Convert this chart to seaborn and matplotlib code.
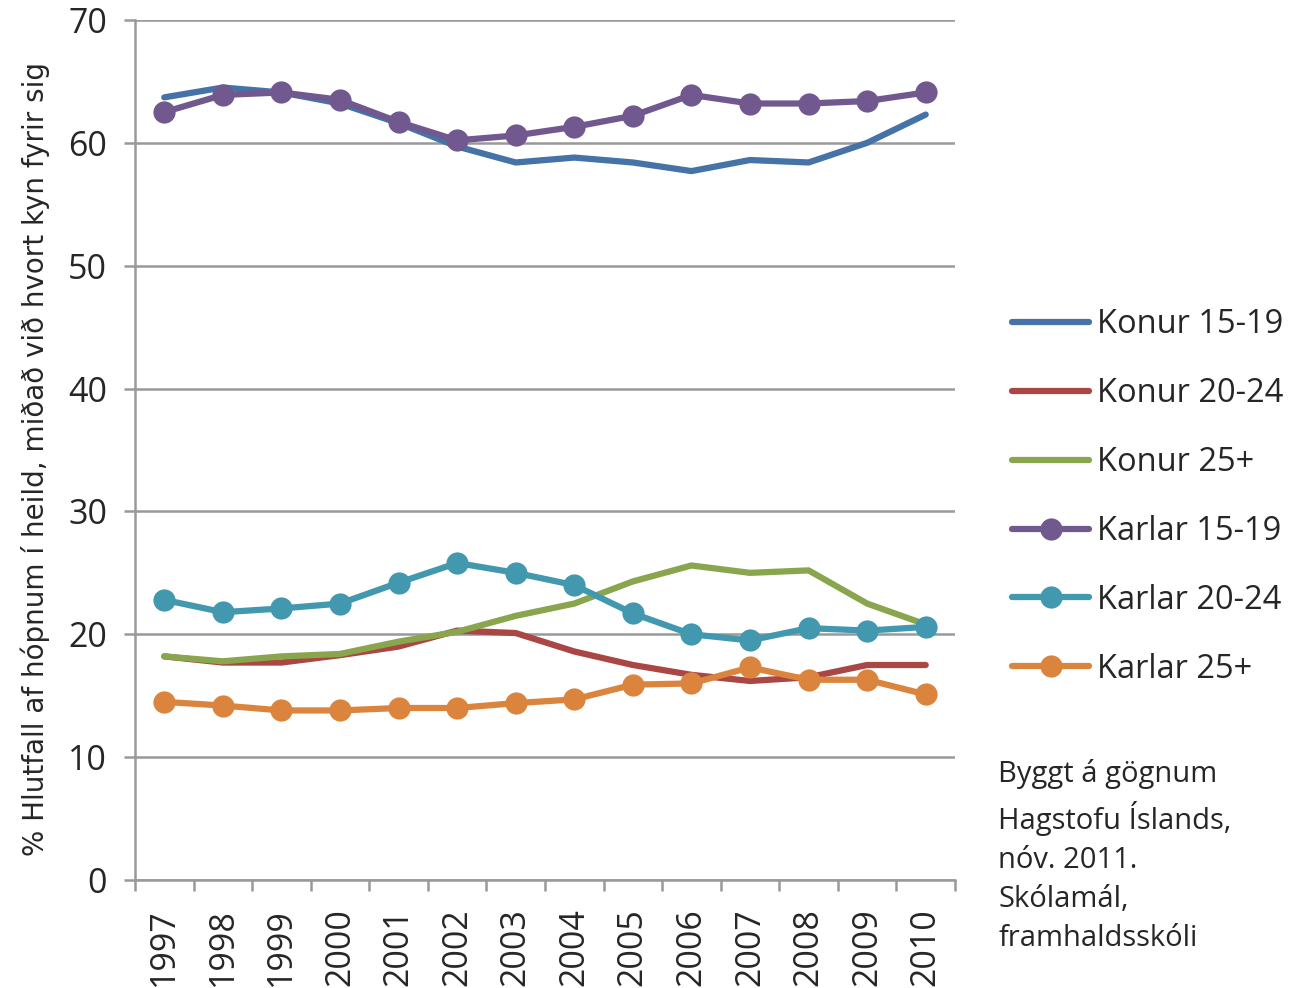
import pandas as pd
import numpy as np
import matplotlib
matplotlib.use('Agg')
import matplotlib.pyplot as plt
import seaborn as sns

years = ['1997', '1998', '1999', '2000', '2001', '2002', '2003',
         '2004', '2005', '2006', '2007', '2008', '2009', '2010']

konur_15_19 = [63.7, 64.5, 64.1, 63.2, 61.6, 59.7, 58.4, 58.8, 58.4, 57.7, 58.6, 58.4, 60.0, 62.3]
konur_20_24 = [18.2, 17.7, 17.7, 18.3, 19.0, 20.3, 20.1, 18.6, 17.5, 16.7, 16.2, 16.5, 17.5, 17.5]
konur_25 = [18.2, 17.8, 18.2, 18.4, 19.4, 20.2, 21.5, 22.5, 24.3, 25.6, 25.0, 25.2, 22.5, 20.8]
karlar_15_19 = [62.5, 63.9, 64.1, 63.5, 61.7, 60.2, 60.6, 61.3, 62.2, 63.9, 63.2, 63.2, 63.4, 64.1]
karlar_20_24 = [22.8, 21.8, 22.1, 22.5, 24.2, 25.8, 25.0, 24.0, 21.7, 20.0, 19.5, 20.5, 20.3, 20.6]
karlar_25 = [14.5, 14.2, 13.8, 13.8, 14.0, 14.0, 14.4, 14.7, 15.9, 16.0, 17.3, 16.3, 16.3, 15.1]

series_names = ['Konur 15-19', 'Konur 20-24', 'Konur 25+',
                'Karlar 15-19', 'Karlar 20-24', 'Karlar 25+']
series_values = [konur_15_19, konur_20_24, konur_25, karlar_15_19, karlar_20_24, karlar_25]
colors = ['#4572A7', '#AA4643', '#89A54E', '#71588F', '#4198AF', '#DB843D']
has_marker = [False, False, False, True, True, True]

footnote = 'Byggt á gögnum\nHagstofu Íslands,\nnóv. 2011.\nSkólamál,\nframhaldsskóli'
ylabel = '% Hlutfall af hópnum í heild, miðað við hvort kyn fyrir sig'

sns.set_style('white')
plt.rcParams['font.family'] = ['Open Sans', 'DejaVu Sans']

fig = plt.figure(figsize=(12.93, 9.88), dpi=100)
ax = fig.add_axes([0.1044, 0.1093, 0.6342, 0.8705])

x = np.arange(len(years))
for name, vals, col, mk in zip(series_names, series_values, colors, has_marker):
    df = pd.DataFrame({'x': x, 'y': vals})
    sns.lineplot(data=df, x='x', y='y', ax=ax, color=col, linewidth=4.5,
                 marker='o' if mk else None, markersize=16 if mk else 0,
                 markeredgewidth=0, label=name, solid_capstyle='round')

ax.set_xlim(-0.5, len(years) - 0.5)
ax.set_ylim(0, 70)
ax.set_yticks(range(0, 71, 10))
ax.yaxis.grid(True, color='#999999', linewidth=1.8)
ax.set_axisbelow(True)

ax.set_xticks(x)
ax.set_xticklabels(years, rotation=90, fontsize=24.5)
ax.set_xticks(np.arange(-0.5, len(years)), minor=True)
ax.tick_params(axis='x', which='major', length=0, pad=20)
ax.tick_params(axis='x', which='minor', length=8, width=1.8, color='#999999', direction='out')
ax.tick_params(axis='y', length=8, width=1.8, color='#999999', direction='out', labelsize=24.5, pad=12)
ax.tick_params(bottom=True, left=True, which='both')

for s in ['top', 'right']:
    ax.spines[s].set_visible(False)
for s in ['left', 'bottom']:
    ax.spines[s].set_color('#999999')
    ax.spines[s].set_linewidth(1.8)

ax.set_xlabel('')
ax.set_ylabel(ylabel, fontsize=20, family=['DejaVu Sans'])
ax.yaxis.set_label_coords(-0.104, 0.49)

leg = ax.legend(loc='upper left', bbox_to_anchor=(0.783, 0.688),
                bbox_transform=fig.transFigure, frameon=False,
                fontsize=23.5, handlelength=2.35, handletextpad=0.25, labelspacing=1.1,
                borderaxespad=0, borderpad=0)

fig.text(0.772, 0.232, footnote, fontsize=21, va='top', ha='left', linespacing=1.45)

fig.savefig('out.png', dpi=100)
